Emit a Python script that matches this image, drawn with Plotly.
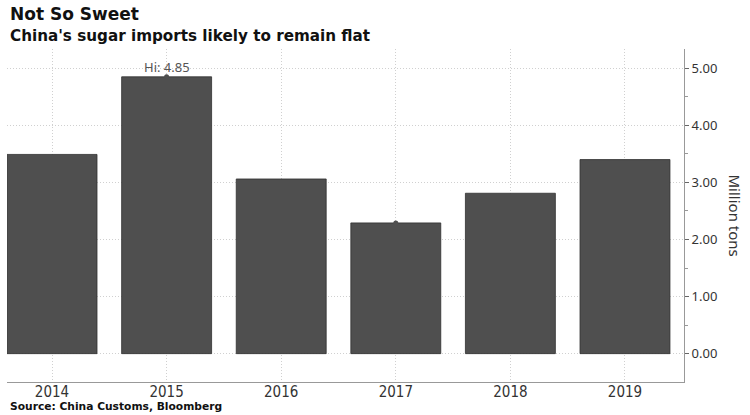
import plotly.graph_objects as go

years = ["2014", "2015", "2016", "2017", "2018", "2019"]
imports = [3.49, 4.85, 3.06, 2.29, 2.81, 3.40]
y_ticks = [0, 1, 2, 3, 4, 5]
y_tick_labels = ["0.00", "1.00", "2.00", "3.00", "4.00", "5.00"]

title = "Not So Sweet"
subtitle = "China's sugar imports likely to remain flat"
source = "Source: China Customs, Bloomberg"
y_title = "Million tons"

xs = list(range(len(years)))
hi_i = max(xs, key=lambda i: imports[i])
lo_i = min(xs, key=lambda i: imports[i])

fig = go.Figure()
fig.add_trace(go.Bar(
    x=xs, y=imports, width=0.785,
    marker=dict(color="#4f4f4f", line=dict(color="#303030", width=0.8)),
    hoverinfo="skip",
))
fig.add_trace(go.Scatter(
    x=[xs[hi_i], xs[lo_i]], y=[imports[hi_i], imports[lo_i]],
    mode="markers", marker=dict(color="#4f4f4f", size=5),
    hoverinfo="skip",
))

ytick_font = dict(family="Noto Sans", size=13, color="#333333")
xtick_font = dict(family="Liberation Sans Narrow, DejaVu Sans Condensed, Noto Sans", size=15, color="#333333")
grid_dash = "1px,2px"

fig.update_layout(
    width=750, height=415,
    margin=dict(l=7, r=66, t=49, b=33),
    plot_bgcolor="white", paper_bgcolor="white",
    showlegend=False,
    xaxis=dict(
        range=[-0.393, 5.515],
        tickmode="array", tickvals=xs, ticktext=years,
        showgrid=True, gridcolor="#d0d0d0", griddash=grid_dash, gridwidth=1,
        showline=True, linecolor="#999999", linewidth=1,
        ticks="", ticklabelstandoff=-4,
        tickfont=xtick_font, zeroline=False,
    ),
    yaxis=dict(
        range=[-0.497, 5.337], side="right",
        tickmode="array", tickvals=y_ticks, ticktext=y_tick_labels,
        showgrid=True, gridcolor="#d0d0d0", griddash=grid_dash, gridwidth=1,
        showline=True, linecolor="#999999", linewidth=1,
        ticks="outside", ticklen=4, tickcolor="#666666",
        minor=dict(dtick=0.5, ticks="outside", ticklen=3, tickcolor="#999999", showgrid=False),
        tickfont=ytick_font, zeroline=False,
    ),
    annotations=[
        dict(text="<b>" + title + "</b>", xref="paper", yref="paper", x=0.0015, y=1.105,
             xanchor="left", yanchor="middle", showarrow=False,
             font=dict(family="DejaVu Sans", size=17, color="#111111")),
        dict(text="<b>" + subtitle + "</b>", xref="paper", yref="paper", x=0.0015, y=1.039,
             xanchor="left", yanchor="middle", showarrow=False,
             font=dict(family="DejaVu Sans", size=15.2, color="#111111")),
        dict(text="<b>" + source + "</b>", xref="paper", yref="paper", x=0.0015, y=-0.075,
             xanchor="left", yanchor="middle", showarrow=False,
             font=dict(family="DejaVu Sans", size=10.7, color="#111111")),
        dict(text=y_title, xref="paper", yref="paper", x=1.0, xshift=51, y=0.5,
             xanchor="center", yanchor="middle", textangle=90, showarrow=False,
             font=dict(family="Noto Sans", size=15, color="#333333")),
        dict(text="Hi: " + f"{imports[hi_i]:.2f}", x=xs[hi_i], y=imports[hi_i],
             xanchor="center", yanchor="bottom", yshift=-1, showarrow=False,
             font=dict(family="Noto Sans", size=13, color="#555555")),
    ],
)

fig.write_html("out.html")
